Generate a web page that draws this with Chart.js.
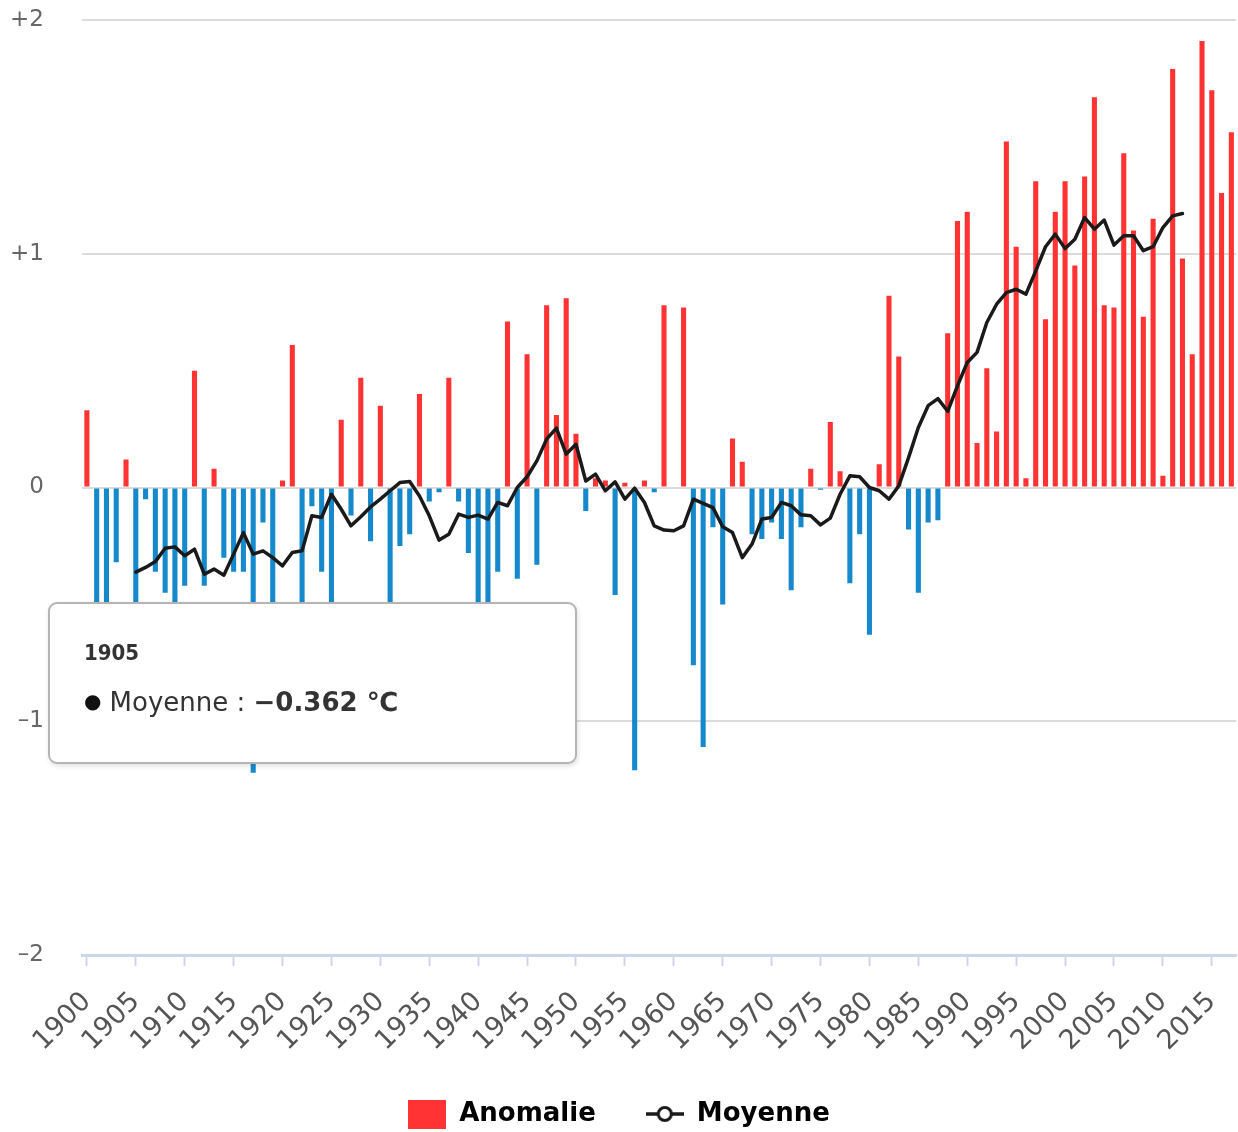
<!DOCTYPE html>
<html><head><meta charset="utf-8">
<script src="https://cdn.jsdelivr.net/npm/chart.js@4.4.1/dist/chart.umd.min.js"></script>
<style>
html,body{margin:0;padding:0;background:#fff;}
#wrap{position:relative;width:1238px;height:1132px;overflow:hidden;}
#tip{position:absolute;display:none;box-sizing:border-box;width:529px;height:162px;background:#fff;border:2px solid #b5b5b5;border-radius:9px;box-shadow:1px 2px 5px rgba(0,0,0,0.12);font-family:'DejaVu Sans',sans-serif;color:#333;}
#tip .tt{position:absolute;left:34px;top:36px;font-weight:bold;font-size:22px;font-family:'DejaVu Sans Condensed','DejaVu Sans',sans-serif;color:#333;}
#tip .tb{position:absolute;left:34px;top:83px;font-size:26px;color:#333;white-space:nowrap;}
#tip .tb b{font-weight:bold;}
#tip .dot{font-size:20px;color:#111;position:relative;top:-3px;}
</style></head>
<body><div id="wrap"><canvas id="c" width="1238" height="1132"></canvas><div id="tip"></div></div>
<script>
const years = [1900,1901,1902,1903,1904,1905,1906,1907,1908,1909,1910,1911,1912,1913,1914,1915,1916,1917,1918,1919,
1920,1921,1922,1923,1924,1925,1926,1927,1928,1929,1930,1931,1932,1933,1934,1935,1936,1937,1938,1939,
1940,1941,1942,1943,1944,1945,1946,1947,1948,1949,1950,1951,1952,1953,1954,1955,1956,1957,1958,1959,
1960,1961,1962,1963,1964,1965,1966,1967,1968,1969,1970,1971,1972,1973,1974,1975,1976,1977,1978,1979,
1980,1981,1982,1983,1984,1985,1986,1987,1988,1989,1990,1991,1992,1993,1994,1995,1996,1997,1998,1999,
2000,2001,2002,2003,2004,2005,2006,2007,2008,2009,2010,2011,2012,2013,2014,2015,2016,2017];

const anomalie = [0.33,-0.70,-0.55,-0.32,0.12,-0.65,-0.05,-0.36,-0.45,-0.96,
-0.42,0.50,-0.42,0.08,-0.30,-0.36,-0.36,-1.22,-0.15,-0.74,
0.03,0.61,-0.55,-0.08,-0.36,-0.69,0.29,-0.12,0.47,-0.23,
0.35,-0.67,-0.25,-0.20,0.40,-0.06,-0.02,0.47,-0.06,-0.28,
-1.15,-0.79,-0.36,0.71,-0.39,0.57,-0.33,0.78,0.31,0.81,
0.23,-0.10,0.04,0.03,-0.46,0.02,-1.21,0.03,-0.02,0.78,
0.00,0.77,-0.76,-1.11,-0.17,-0.50,0.21,0.11,-0.20,-0.22,
-0.15,-0.22,-0.44,-0.17,0.08,-0.01,0.28,0.07,-0.41,-0.20,
-0.63,0.10,0.82,0.56,-0.18,-0.45,-0.15,-0.14,0.66,1.14,
1.18,0.19,0.51,0.24,1.48,1.03,0.04,1.31,0.72,1.18,
1.31,0.95,1.33,1.67,0.78,0.77,1.43,1.10,0.73,1.15,
0.05,1.79,0.98,0.57,1.91,1.70,1.26,1.52];

const moyenne = [null,null,null,null,null,-0.362,-0.342,-0.317,-0.260,-0.254,
-0.292,-0.264,-0.371,-0.349,-0.375,-0.285,-0.193,-0.285,-0.271,-0.300,
-0.335,-0.278,-0.271,-0.121,-0.128,-0.029,-0.093,-0.164,-0.125,-0.083,
-0.050,-0.014,0.021,0.026,-0.036,-0.121,-0.225,-0.200,-0.114,-0.128,
-0.118,-0.135,-0.064,-0.078,0.000,0.046,0.114,0.207,0.254,0.143,
0.185,0.028,0.057,-0.014,0.024,-0.050,-0.003,-0.064,-0.164,-0.182,
-0.185,-0.164,-0.050,-0.068,-0.086,-0.168,-0.193,-0.300,-0.242,-0.135,
-0.128,-0.064,-0.078,-0.117,-0.121,-0.160,-0.131,-0.029,0.050,0.046,
0.000,-0.014,-0.050,0.007,0.128,0.257,0.350,0.380,0.326,0.435,
0.535,0.578,0.706,0.784,0.834,0.848,0.827,0.927,1.030,1.084,
1.022,1.062,1.155,1.105,1.144,1.037,1.077,1.077,1.013,1.030,
1.112,1.162,1.172,null,null,null,null,null];

const yTicks = [-2,-1,0,1,2];
const tooltipYear = 1905;

const RED = '#ff3333', BLUE = '#1589cb', LINE = '#1a1a1a';
Chart.defaults.font.family = "'DejaVu Sans', sans-serif";

function rectSym(){const c=document.createElement('canvas');c.width=38;c.height=29;const g=c.getContext('2d');g.fillStyle=RED;g.fillRect(0,0,38,29);return c;}
function lineSym(){const c=document.createElement('canvas');c.width=38;c.height=20;const g=c.getContext('2d');
 g.strokeStyle=LINE;g.lineWidth=3.5;g.beginPath();g.moveTo(0,10);g.lineTo(38,10);g.stroke();
 g.beginPath();g.arc(19,10,6.5,0,Math.PI*2);g.fillStyle='#fff';g.fill();g.lineWidth=3;g.stroke();return c;}

function fmt(v){return (v<0?'\u2212':'')+Math.abs(v).toFixed(3)+' \u2103';}

function externalTip(context){
  const t = context.tooltip; const el = document.getElementById('tip');
  if (!t || t.opacity === 0 || !t.dataPoints || !t.dataPoints.length){ el.style.display='none'; return; }
  const dp = t.dataPoints[0];
  el.innerHTML = '<div class="tt">'+t.title[0]+'</div><div class="tb"><span class="dot">\u25CF</span> '+dp.dataset.label+' : <b>'+fmt(dp.raw)+'</b></div>';
  el.style.left = (t.caretX - 88)+'px';
  el.style.top = (t.caretY + 30)+'px';
  el.style.display='block';
}

const chart = new Chart(document.getElementById('c'), {
  data: {
    labels: years,
    datasets: [
      { type:'bar', label:'Anomalie', data: anomalie, order: 2,
        backgroundColor: c => (c.raw >= 0 ? RED : BLUE),
        barPercentage: 0.52, categoryPercentage: 1.0, borderWidth: 0 },
      { type:'line', label:'Moyenne', data: moyenne, order: 1,
        borderColor: LINE, borderWidth: 3.5, pointRadius: 0, tension: 0, spanGaps: false,
        borderJoinStyle:'round', borderCapStyle:'round' }
    ]
  },
  options: {
    responsive: false, animation: false,
    layout: { padding: { top: 20, right: 0, bottom: -5, left: 0 } },
    scales: {
      x: {
        type: 'category', offset: true,
        grid: { display: true, drawOnChartArea: false, drawTicks: true, tickLength: 11, offset: false,
          tickWidth: 2, tickColor: c => (years[c.index] % 5 === 0 ? '#ccd6eb' : 'rgba(0,0,0,0)') },
        border: { display: true, color: '#ccd6eb', width: 3 },
        ticks: { autoSkip: false, maxRotation: 45, minRotation: 45, padding: 20,
          color: '#555', font: { size: 27 },
          callback: function(v, i){ return years[i] % 5 === 0 ? String(years[i]) : ''; } },
        afterFit: s => { s.height = 96; s.paddingLeft = 0; s.paddingRight = 0; }
      },
      y: {
        min: -2, max: 2,
        afterBuildTicks: s => { s.ticks = yTicks.map(v => ({value: v})); },
        grid: { color: '#dcdcdc', lineWidth: 2, drawTicks: false },
        border: { display: false },
        ticks: { padding: 38, color: '#666', font: { size: 23 },
          callback: v => (v > 0 ? '+' + v : (v < 0 ? '\u2013' + Math.abs(v) : String(v))) },
        afterFit: s => { s.width = 82; s.paddingTop = 0; s.paddingBottom = 0; }
      }
    },
    plugins: {
      legend: {
        position: 'bottom',
        labels: {
          usePointStyle: true, pointStyleWidth: 38, padding: 50,
          color: '#333', font: { size: 26, weight: 'bold' },
          generateLabels: () => [
            { text: 'Anomalie', pointStyle: rectSym(), fillStyle: RED, strokeStyle: RED, lineWidth: 0, datasetIndex: 0, hidden: false },
            { text: 'Moyenne', pointStyle: lineSym(), fillStyle: '#fff', strokeStyle: LINE, lineWidth: 0, datasetIndex: 1, hidden: false }
          ]
        }
      },
      tooltip: { enabled: false, mode: 'nearest', intersect: false,
        filter: it => it.datasetIndex === 1, external: externalTip,
        callbacks: { title: items => String(items[0].label) } }
    }
  }
});

const idx = years.indexOf(tooltipYear);
chart.tooltip.setActiveElements([{datasetIndex: 1, index: idx}], {x: 0, y: 0});
chart.update();
if (document.getElementById('tip').style.display !== 'block') {
  const el = chart.getDatasetMeta(1).data[idx];
  externalTip({chart, tooltip: {opacity:1, caretX: el.x, caretY: el.y, title:[String(years[idx])],
    dataPoints:[{dataset: chart.data.datasets[1], raw: moyenne[idx]}]}});
}
</script>
</body></html>
